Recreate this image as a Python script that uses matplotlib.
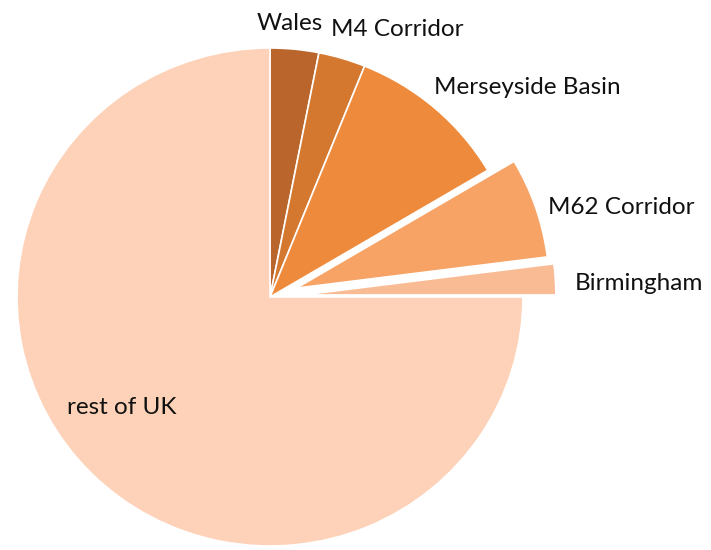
import matplotlib
matplotlib.use("Agg")
import matplotlib.pyplot as plt

categories = ["Wales", "M4 Corridor", "Merseyside Basin", "M62 Corridor", "Birmingham", "rest of UK"]
values = [3.1, 3.0, 10.4, 6.5, 2.0, 75.0]
explode = [0, 0, 0, 0.11, 0.13, 0]
colors = ["#b9652b", "#d5782f", "#ee8a3c", "#f6a365", "#f9bb94", "#fdd2b8"]

# label centres in pixels of the 711x550 canvas (layout only)
label_px = [(290, 23), (397, 29), (527, 88), (621, 208), (639, 283), (122, 408)]

plt.rcParams['font.family'] = ['Lato', 'DejaVu Sans']

W, H = 711, 550
fig = plt.figure(figsize=(W / 100, H / 100), dpi=100)
ax = fig.add_axes([0, 0, 1, 1])
Rx, Ry = 253.0, 249.0
cx, cy = 270.0, 297.0
ax.pie(values, explode=explode, colors=colors, startangle=90, counterclock=False,
       radius=1.0, wedgeprops=dict(edgecolor="white", linewidth=1.2))
ax.set_aspect('auto')
ax.set_xlim(-cx / Rx, (W - cx) / Rx)
ax.set_ylim((cy - H) / Ry, cy / Ry)
ax.axis('off')

for name, (px, py) in zip(categories, label_px):
    ax.text(px / W, 1 - py / H, name, transform=ax.transAxes, ha='center', va='center',
            fontsize=17.5, color='#111111')

fig.savefig("out.png", dpi=100)
